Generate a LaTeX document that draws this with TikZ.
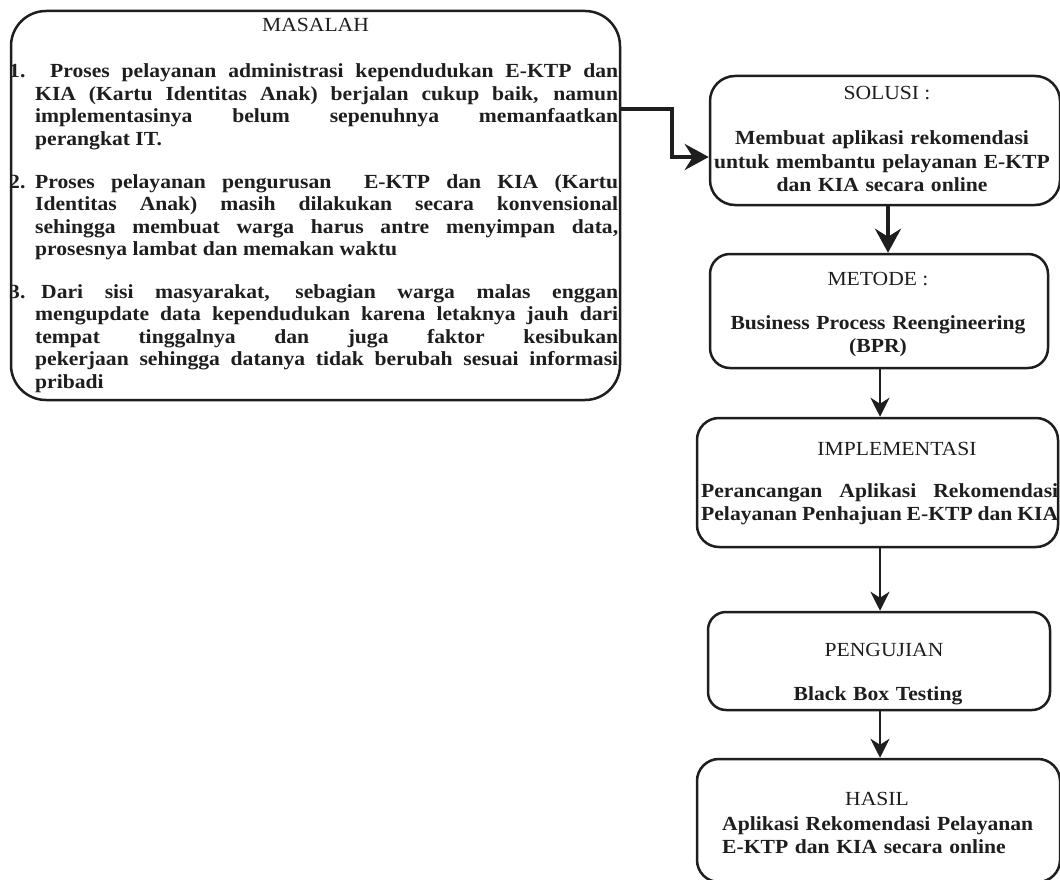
\documentclass[tikz,border=0pt]{standalone}
\usepackage{fontspec}
\setmainfont{Liberation Serif}[FakeStretch=1.08]
\usetikzlibrary{arrows.meta}
\definecolor{ink}{HTML}{1E1E1E}
\begin{document}
\begin{tikzpicture}[x=1pt,y=-1pt,
  box/.style={draw=ink, line width=2.5pt, inner sep=0pt, fill=white},
  ttl/.style={anchor=base, inner sep=0pt, font=\fontsize{20}{23.5}\selectfont, text=ink},
  bdy/.style={anchor=base, inner sep=0pt, font=\fontsize{20}{23.5}\selectfont\bfseries, text=ink, align=center},
  num/.style={anchor=base west, inner sep=0pt, font=\fontsize{20}{22.5}\selectfont\bfseries, text=ink},
  itemtext/.style={anchor=base west, inner sep=0pt, text width=583pt, align=justify, font=\fontsize{20}{22.5}\selectfont\bfseries, text=ink},
  bigarrow/.style={draw=ink, line width=4pt, -{Stealth[length=24pt,width=26pt,inset=8pt]}},
  arr/.style={draw=ink, line width=2.5pt, -{Stealth[length=19pt,width=19pt,inset=6pt]}}
]
\useasboundingbox (0,0) rectangle (1060,880);

% MASALAH
\node[box, rounded corners=35pt, minimum width=609pt, minimum height=389pt] (masalah) at (315.5,205.5) {};
\node[ttl] (mt) at (315.5,32) {MASALAH};
\node[num] (n1) at (9,78) {1.};
\node[itemtext] (i1) at (35,78) {\hspace*{15pt}Proses pelayanan administrasi kependudukan E-KTP dan\linebreak KIA (Kartu Identitas Anak) berjalan cukup baik, namun\linebreak implementasinya belum sepenuhnya memanfaatkan\linebreak perangkat IT.};
\node[num] (n2) at (9,188) {2.};
\node[itemtext] (i2) at (35,188) {Proses pelayanan pengurusan\ \ E-KTP dan KIA (Kartu\linebreak Identitas Anak) masih dilakukan secara konvensional\linebreak sehingga membuat warga harus antre menyimpan data,\linebreak prosesnya lambat dan memakan waktu};
\node[num] (n3) at (9,298) {3.};
\node[itemtext] (i3) at (35,298) {\hspace*{6pt}Dari sisi masyarakat, sebagian warga malas enggan\linebreak mengupdate data kependudukan karena letaknya jauh dari\linebreak tempat tinggalnya dan juga faktor kesibukan\linebreak pekerjaan sehingga datanya tidak berubah sesuai informasi\linebreak pribadi};

% SOLUSI
\node[box, rounded corners=25pt, minimum width=350pt, minimum height=129pt] (solusi) at (885,140.5) {};
\node[ttl] (st) at (887,100) {SOLUSI :};
\node[bdy, text width=340pt] (sb) at (882,145) {Membuat aplikasi rekomendasi\\ untuk membantu pelayanan E-KTP\\ dan KIA secara online};

% METODE
\node[box, rounded corners=20pt, minimum width=338pt, minimum height=114pt] (metode) at (879,311) {};
\node[ttl] (mtt) at (878,285) {METODE :};
\node[bdy, text width=330pt] (mb) at (878,329) {Business Process Reengineering\\ (BPR)};

% IMPLEMENTASI
\node[box, rounded corners=22pt, minimum width=361pt, minimum height=129pt] (impl) at (877.5,482.5) {};
\node[ttl] (it) at (897,455) {IMPLEMENTASI};
\node[bdy, anchor=base west, text width=357pt, align=justify] (ib) at (701,497) {Perancangan Aplikasi Rekomendasi\linebreak Pelayanan Penhajuan E-KTP dan KIA};

% PENGUJIAN
\node[box, rounded corners=18pt, minimum width=342pt, minimum height=98pt] (peng) at (879,661) {};
\node[ttl] (pt) at (884,656) {PENGUJIAN};
\node[bdy, text width=330pt] (pb) at (878,700) {Black Box Testing};

% HASIL
\node[box, rounded corners=22pt, minimum width=363pt, minimum height=123pt] (hasil) at (878.5,820.5) {};
\node[ttl] (ht) at (877,805) {HASIL};
\node[bdy, anchor=base west, text width=330pt, align=left] (hb) at (722,830) {Aplikasi Rekomendasi Pelayanan\\ E-KTP dan KIA secara online};

% connectors
\coordinate (ya) at (0,109);
\coordinate (yb) at (0,157);
\coordinate (bend) at (672,0);
\coordinate (xa) at (888,0);
\coordinate (xb) at (880,0);
\draw[bigarrow] (masalah.east |- ya) -- (bend |- ya) -- (bend |- yb) -- (solusi.west |- yb);
\draw[bigarrow] (solusi.south -| xa) -- (metode.north -| xa);
\draw[arr] (metode.south -| xb) -- (impl.north -| xb);
\draw[arr] (impl.south -| xb) -- (peng.north -| xb);
\draw[arr] (peng.south -| xb) -- (hasil.north -| xb);
\end{tikzpicture}
\end{document}
